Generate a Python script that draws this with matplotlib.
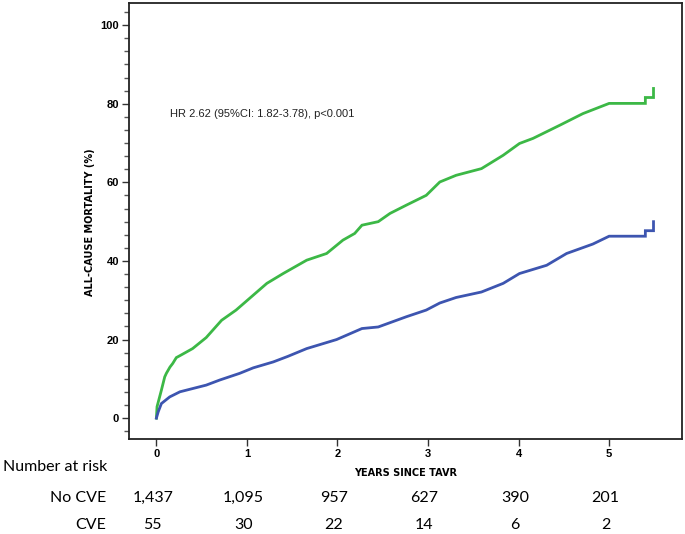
import numpy as np
import matplotlib
matplotlib.use('Agg')
import matplotlib.pyplot as plt
from matplotlib.ticker import MultipleLocator
from matplotlib.transforms import blended_transform_factory

# Kaplan-Meier style cumulative mortality
cve_years = [0, 0.007, 0.055, 0.092, 0.11, 0.15, 0.18, 0.22, 0.26, 0.40, 0.55, 0.72,
             0.88, 1.03, 1.22, 1.40, 1.66, 1.88, 2.06, 2.19, 2.27, 2.45, 2.58, 2.76,
             2.98, 3.13, 3.31, 3.59, 3.83, 4.01, 4.16, 4.46, 4.71, 5.0, 5.40, 5.40,
             5.49, 5.49]
cve_mort = [0, 2.9, 7.1, 10.5, 11.4, 13.0, 13.9, 15.4, 15.9, 17.7, 20.5, 24.9,
            27.5, 30.5, 34.3, 36.8, 40.2, 41.9, 45.3, 47.0, 49.1, 50.0, 52.1, 54.2,
            56.7, 60.1, 61.8, 63.5, 66.9, 69.9, 71.2, 74.6, 77.5, 80.1, 80.1, 81.6,
            81.6, 83.9]

nocve_years = [0, 0.02, 0.055, 0.147, 0.26, 0.55, 0.70, 0.92, 1.07, 1.29, 1.45, 1.66,
               1.99, 2.27, 2.45, 2.76, 2.98, 3.13, 3.31, 3.59, 3.83, 4.01, 4.31, 4.53,
               4.82, 5.0, 5.40, 5.40, 5.49, 5.49]
nocve_mort = [0, 1.6, 3.7, 5.4, 6.7, 8.4, 9.7, 11.4, 12.8, 14.3, 15.7, 17.7,
              20.0, 22.8, 23.2, 25.8, 27.5, 29.3, 30.7, 32.1, 34.3, 36.8, 38.9, 41.9,
              44.3, 46.3, 46.3, 47.7, 47.7, 50.0]

risk_years = [0, 1, 2, 3, 4, 5]
risk_nocve = ['1,437', '1,095', '957', '627', '390', '201']
risk_cve = ['55', '30', '22', '14', '6', '2']

GREEN = '#3cb846'
BLUE = '#3d55b0'

fig = plt.figure(figsize=(6.85, 5.34), dpi=100)
ax = fig.add_axes([0.188, 0.178, 0.807, 0.816])

ax.plot(cve_years, cve_mort, color=GREEN, lw=2.0, solid_joinstyle='miter')
ax.plot(nocve_years, nocve_mort, color=BLUE, lw=2.0, solid_joinstyle='miter')

ax.set_xlim(-0.305, 5.8)
ax.set_ylim(-5.3, 105.6)

ax.xaxis.set_major_locator(MultipleLocator(1))
ax.yaxis.set_major_locator(MultipleLocator(20))
ax.yaxis.set_minor_locator(MultipleLocator(20 / 6))

for s in ax.spines.values():
    s.set_linewidth(1.3)
    s.set_color('#222222')

ax.tick_params(which='major', direction='out', length=5, width=1, color='#333333',
               pad=2, labelsize=8)
ax.tick_params(which='minor', direction='out', length=3.5, width=1, color='#555555')
for lab in ax.get_xticklabels() + ax.get_yticklabels():
    lab.set_fontweight('bold')
    lab.set_family('Liberation Sans')

ax.text(0.15, 77.5, 'HR 2.62 (95%CI: 1.82-3.78), p<0.001', fontsize=8,
        family='Liberation Sans', color='#222222', va='center', ha='left')

# axis titles (small caps look approximated with uppercase bold)
fig.text(0.592, 1 - 473 / 534, 'YEARS SINCE TAVR', ha='center', va='center',
         fontsize=7, fontweight='bold', family='DejaVu Sans')
fig.text(90 / 685, 1 - 222 / 534, 'ALL-CAUSE MORTALITY (%)', ha='center', va='center',
         rotation=90, fontsize=7, fontweight='bold', family='DejaVu Sans')

# number at risk table
fig.text(3 / 685, 1 - 467 / 534, 'Number at risk', fontsize=11.5, family='Lato',
         ha='left', va='center')
fig.text(106 / 685, 1 - 498 / 534, 'No CVE', fontsize=11.5, family='Lato',
         ha='right', va='center')
fig.text(106 / 685, 1 - 525 / 534, 'CVE', fontsize=11.5, family='Lato',
         ha='right', va='center')

trans = blended_transform_factory(ax.transData, fig.transFigure)
for yr, n1, n2 in zip(risk_years, risk_nocve, risk_cve):
    ax.text(yr - 0.04, 1 - 498 / 534, n1, transform=trans, fontsize=11.5, family='Lato',
            ha='center', va='center', clip_on=False)
    ax.text(yr - 0.04, 1 - 525 / 534, n2, transform=trans, fontsize=11.5, family='Lato',
            ha='center', va='center', clip_on=False)

fig.savefig('out.png', dpi=100)
